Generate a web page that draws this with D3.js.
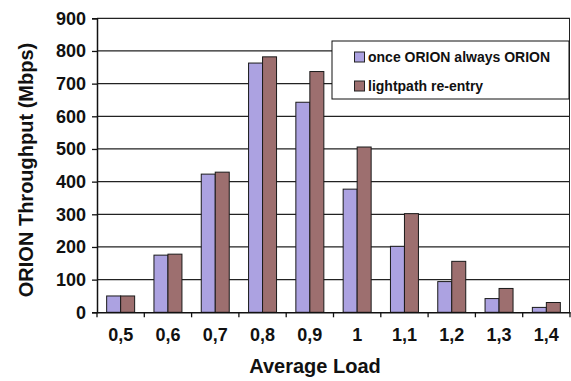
<!DOCTYPE html>
<html>
<head>
<meta charset="utf-8">
<script src="https://cdn.jsdelivr.net/npm/d3@7"></script>
<style>
  html, body { margin: 0; padding: 0; background: #fff; }
  svg { display: block; }
  text { font-family: "Liberation Sans", Arial, Helvetica, sans-serif; font-weight: bold; fill: #111; }
</style>
</head>
<body>
<svg id="chart" width="571" height="381"></svg>
<script>
// Average load levels on the x axis
const loads = ["0,5", "0,6", "0,7", "0,8", "0,9", "1", "1,1", "1,2", "1,3", "1,4"];
// Throughput (Mbps) for each strategy
const onceOrion = [50, 175, 423, 763, 643, 377, 202, 94, 42, 15];
const lightpathReentry = [50, 178, 429, 782, 737, 506, 302, 156, 73, 30];
const seriesNames = ["once ORION always ORION", "lightpath re-entry"];
const seriesColors = ["#aca2e1", "#9d6f6f"];
const yTicks = [0, 100, 200, 300, 400, 500, 600, 700, 800, 900];

const svg = d3.select("#chart");
const plot = { left: 97, right: 570, top: 18.3, bottom: 312.3 };

const x0 = d3.scaleBand().domain(loads).range([plot.left, plot.right]).paddingInner(0).paddingOuter(0);
const x1 = d3.scaleBand().domain(seriesNames).range([0, x0.bandwidth()]).paddingInner(0).paddingOuter(0.69);
const y = d3.scaleLinear().domain([0, 900]).range([plot.bottom, plot.top]);

const rows = loads.map((l, i) => ({ load: l, values: [onceOrion[i], lightpathReentry[i]] }));

// Horizontal gridlines
svg.append("g").selectAll("line").data(yTicks.filter(d => d > 0)).join("line")
  .attr("x1", plot.left).attr("x2", plot.right)
  .attr("y1", d => y(d)).attr("y2", d => y(d))
  .attr("stroke", "#222").attr("stroke-width", 1.3);

// Right edge of plot area
svg.append("line")
  .attr("x1", plot.right - 0.5).attr("x2", plot.right - 0.5)
  .attr("y1", plot.top).attr("y2", plot.bottom)
  .attr("stroke", "#222").attr("stroke-width", 1);

// Bars
const groups = svg.append("g").selectAll("g").data(rows).join("g")
  .attr("transform", d => `translate(${x0(d.load)},0)`);
groups.selectAll("rect").data(d => d.values.map((v, k) => ({ name: seriesNames[k], v, k }))).join("rect")
  .attr("x", d => x1(d.name))
  .attr("y", d => y(d.v))
  .attr("width", x1.bandwidth())
  .attr("height", d => y(0) - y(d.v))
  .attr("fill", d => seriesColors[d.k])
  .attr("stroke", "#1a1a1a").attr("stroke-width", 1);

// Y axis
const yAxis = svg.append("g").attr("transform", `translate(${plot.left},0)`)
  .call(d3.axisLeft(y).tickValues(yTicks).tickSize(5).tickPadding(6).tickFormat(d3.format("d")));
yAxis.select(".domain").attr("stroke", "#111").attr("stroke-width", 1.5);
yAxis.selectAll(".tick line").attr("stroke", "#111").attr("stroke-width", 1.3);
yAxis.selectAll(".tick text").attr("font-size", 18).attr("font-family", null).attr("fill", "#111");

// X axis with ticks at category boundaries
const xAxis = svg.append("g").attr("transform", `translate(0,${plot.bottom})`)
  .call(d3.axisBottom(x0).tickSize(0).tickPadding(16));
xAxis.select(".domain").attr("stroke", "#111").attr("stroke-width", 1.5);
xAxis.selectAll(".tick text").attr("font-size", 18).attr("font-family", null).attr("fill", "#111");
svg.append("g").selectAll("line").data(loads.concat(["end"])).join("line")
  .attr("x1", (d, i) => plot.left + i * x0.step())
  .attr("x2", (d, i) => plot.left + i * x0.step())
  .attr("y1", plot.bottom).attr("y2", plot.bottom + 5)
  .attr("stroke", "#111").attr("stroke-width", 1.3);

// Axis titles
svg.append("text")
  .attr("x", 315).attr("y", 373)
  .attr("text-anchor", "middle").attr("font-size", 20)
  .text("Average Load");
svg.append("text")
  .attr("transform", "translate(32.5,170) rotate(-90)")
  .attr("text-anchor", "middle").attr("font-size", 20)
  .text("ORION Throughput (Mbps)");

// Legend
const legend = svg.append("g").attr("transform", "translate(332,41)");
legend.append("rect").attr("width", 237).attr("height", 58)
  .attr("fill", "#fff").attr("stroke", "#111").attr("stroke-width", 1);
seriesNames.forEach((name, k) => {
  const row = legend.append("g").attr("transform", `translate(0,${11 + k * 29})`);
  row.append("rect").attr("x", 22.5).attr("y", 0).attr("width", 10).attr("height", 10)
    .attr("fill", seriesColors[k]).attr("stroke", "#222").attr("stroke-width", 1);
  row.append("text").attr("x", 36).attr("y", 10).attr("font-size", 14).text(name);
});
</script>
</body>
</html>
